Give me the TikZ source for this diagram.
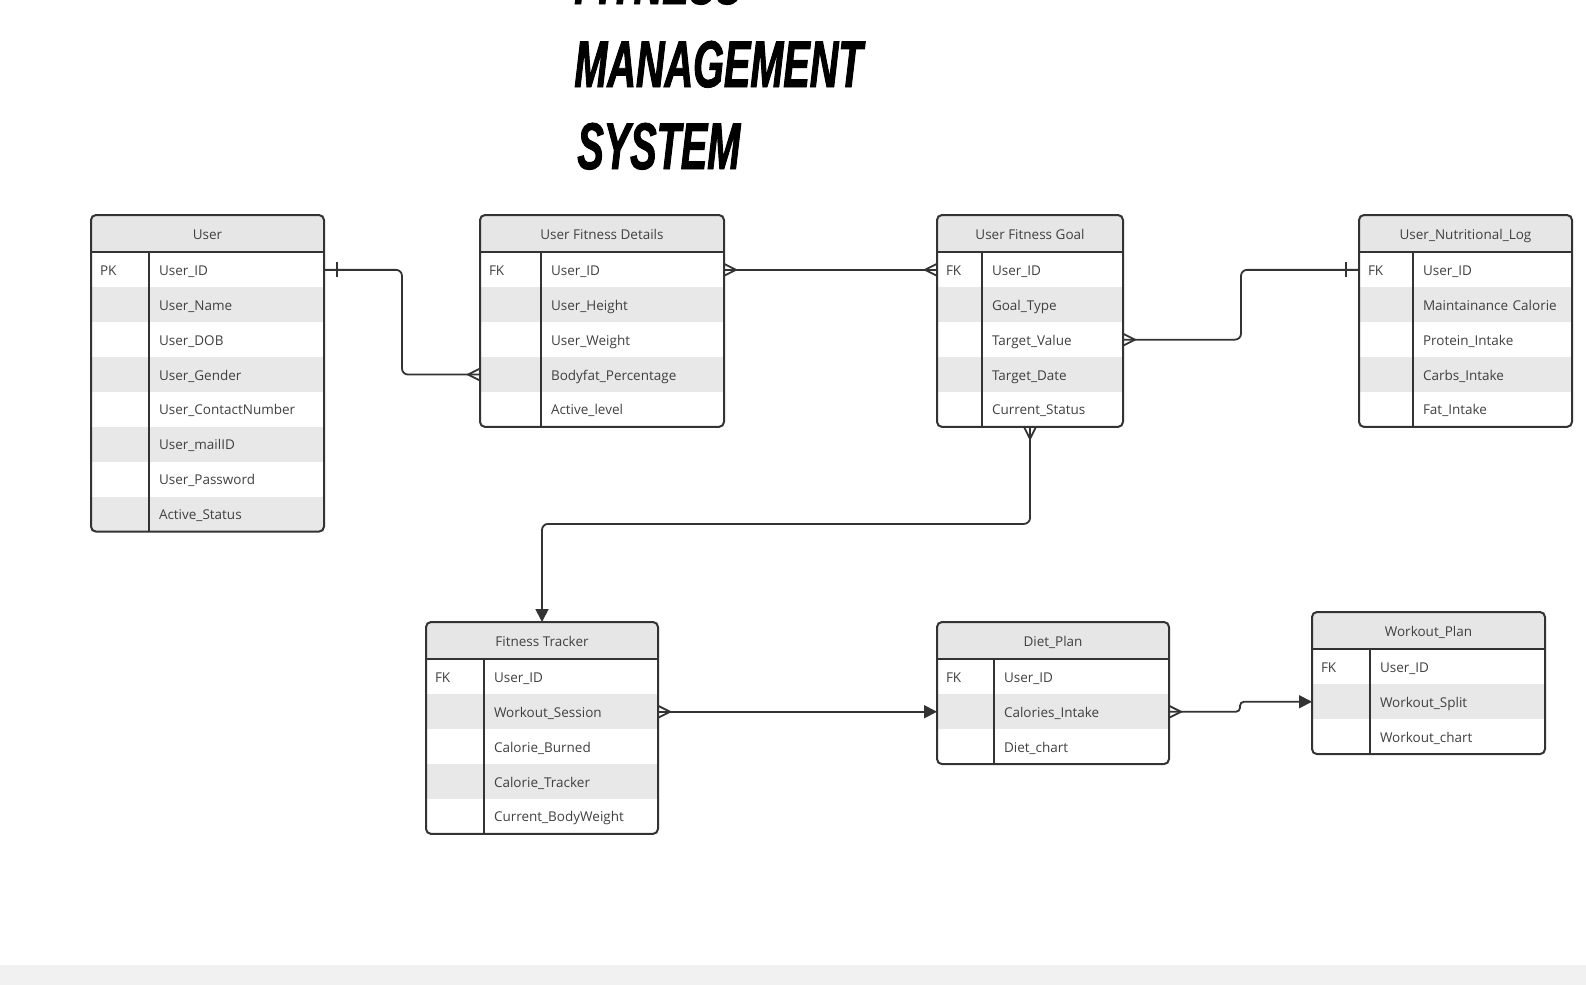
\documentclass[tikz,border=0pt]{standalone}
\usepackage{fontspec}
\setmainfont{Open Sans}
\newfontfamily\titlefont[FakeStretch=0.6,FakeBold=1.4]{Liberation Sans}
\usetikzlibrary{arrows.meta,positioning,fit}
\definecolor{erdline}{RGB}{51,51,51}
\definecolor{erdtext}{RGB}{64,64,64}
\definecolor{erdstripe}{RGB}{232,232,232}
\definecolor{erdheadfill}{RGB}{230,230,230}
\definecolor{bandgray}{RGB}{241,241,241}

% one table: name, top-left (px), width, key width, title, key/field rows
\newcommand{\erdtable}[6]{%
  \node[erdhead, minimum width=#3*0.5pt, anchor=north west] (#1) at (#2) {#5};
  \foreach \k/\f [count=\i] in {#6} {
    \ifodd\i\relax \def\rowcol{white}\else \def\rowcol{erdstripe}\fi
    \node[erdkey, fill=\rowcol, text width=#4*0.5pt-9pt, anchor=north west]
      (#1-k\i) at ([yshift={-(\i-1)*17.45pt}]#1.south west) {\k};
    \node[erdfield, fill=\rowcol, text width=(#3-#4)*0.5pt-10pt, anchor=north west]
      (#1-r\i) at (#1-k\i.north east) {\f};
    \xdef\erdlast{\i}
  }
  \node[erdframe, fit=(#1)(#1-r\erdlast)] (#1-box) {};
  \draw[erdedge] (#1.south west) -- (#1.south east);
  \draw[erdedge] (#1-k1.north east) -- (#1-k\erdlast.south east);
}

\begin{document}
\begin{tikzpicture}[
    x=0.5pt, y=-0.5pt,
    font=\fontsize{6.75}{8}\selectfont,
    erdhead/.style={fill=erdheadfill, rounded corners=2.5pt, minimum height=18.7pt, inner sep=0, outer sep=0,
      text height=0.55em, text depth=0pt, text=erdtext},
    erdkey/.style={minimum height=17.45pt, inner xsep=4.5pt, inner ysep=0, outer sep=0, align=left,
      text height=0.55em, text depth=0pt, text=erdtext},
    erdfield/.style={minimum height=17.45pt, inner xsep=5pt, inner ysep=0, outer sep=0, align=left,
      text height=0.55em, text depth=0pt, text=erdtext},
    erdframe/.style={draw=erdline, line width=1pt, rounded corners=2.5pt, inner sep=0, outer sep=0},
    erdedge/.style={draw=erdline, line width=1pt},
    conn/.style={draw=erdline, line width=0.9pt, rounded corners=3pt},
    arrow/.style={conn, -{Triangle[length=6.5pt,width=6.5pt]}},
    titletext/.style={font=\titlefont\bfseries\itshape\fontsize{33}{33}\selectfont, inner sep=0, anchor=base west},
    crow/.pic={\draw[erdline, line width=0.9pt] (0,-6) -- (12,0) -- (0,6);},
    onebar/.pic={\draw[erdline, line width=0.9pt] (13,-7.5) -- (13,7.5);}
]
    \useasboundingbox (0,0) rectangle (1586,985);
    \clip (0,0) rectangle (1586,985);
    \fill[bandgray] (0,965) rectangle (1586,985);

    % title
    \node[titletext] (title1) at (574,4) {FITNESS};
    \node[titletext] (title2) at (574,87) {MANAGEMENT};
    \node[titletext] (title3) at (577,169) {SYSTEM};

    % tables
    \erdtable{user}{91,215}{233}{58}{User}{PK/User\_ID, /User\_Name, /User\_DOB, /User\_Gender,
      /User\_ContactNumber, /User\_mailID, /User\_Password, /Active\_Status}
    \erdtable{ufd}{480,215}{244}{61}{User Fitness Details}{FK/User\_ID, /User\_Height, /User\_Weight,
      /Bodyfat\_Percentage, /Active\_level}
    \erdtable{ufg}{937,215}{186}{45}{User Fitness Goal}{FK/User\_ID, /Goal\_Type, /Target\_Value,
      /Target\_Date, /Current\_Status}
    \erdtable{unl}{1359,215}{213}{54}{User\_Nutritional\_Log}{FK/User\_ID, /Maintainance Calorie,
      /Protein\_Intake, /Carbs\_Intake, /Fat\_Intake}
    \erdtable{ft}{426,622}{232}{58}{Fitness Tracker}{FK/User\_ID, /Workout\_Session, /Calorie\_Burned,
      /Calorie\_Tracker, /Current\_BodyWeight}
    \erdtable{dp}{937,622}{232}{57}{Diet\_Plan}{FK/User\_ID, /Calories\_Intake, /Diet\_chart}
    \erdtable{wp}{1312,612}{233}{58}{Workout\_Plan}{FK/User\_ID, /Workout\_Split, /Workout\_chart}

    % relations
    \draw[conn] (user-r1.east) -- ++(78,0) |- (ufd-k4.west);
    \pic at (user-r1.east) {onebar};
    \pic[rotate=180] at (ufd-k4.west) {crow};

    \draw[conn] (ufd-r1.east) -- (ufg-k1.west);
    \pic at (ufd-r1.east) {crow};
    \pic[rotate=180] at (ufg-k1.west) {crow};

    \draw[conn] (ufg-r3.east) -- ++(118,0) |- (unl-k1.west);
    \pic at (ufg-r3.east) {crow};
    \pic[rotate=180] at (unl-k1.west) {onebar};

    \draw[arrow] (ufg-box.south) -- ++(0,97) -| (ft-box.north);
    \pic[rotate=-90] at (ufg-box.south) {crow};

    \draw[arrow] (ft-r2.east) -- (dp-k2.west);
    \pic at (ft-r2.east) {crow};

    \draw[arrow, rounded corners=2pt] (dp-r2.east) -- ++(71,0) |- (wp-k2.west);
    \pic at (dp-r2.east) {crow};
\end{tikzpicture}
\end{document}
